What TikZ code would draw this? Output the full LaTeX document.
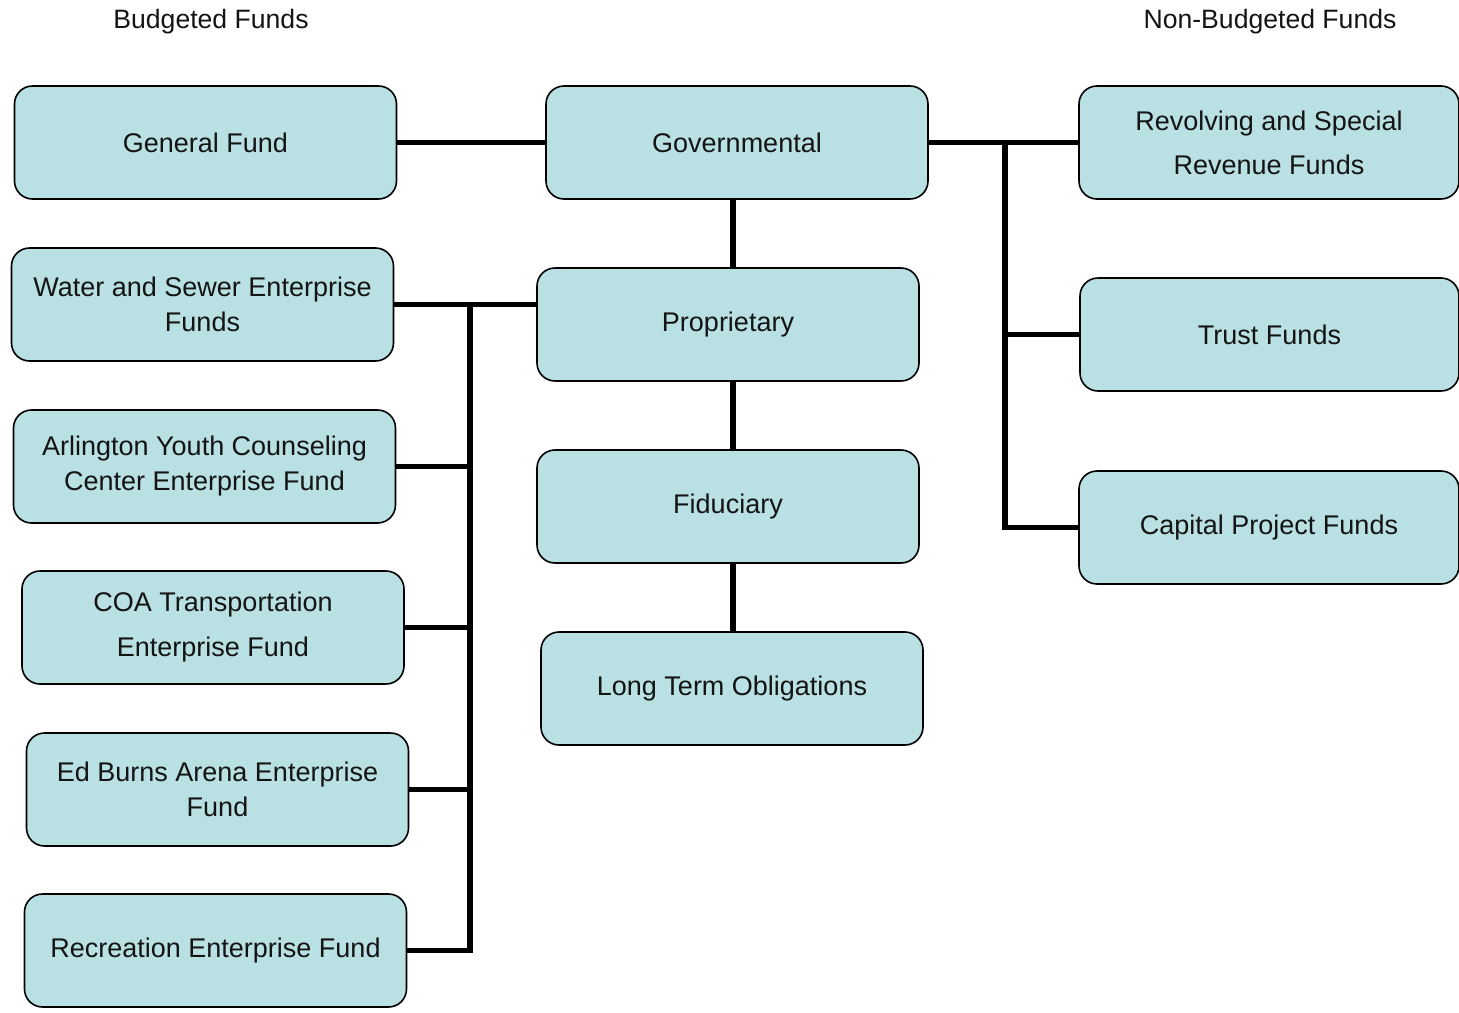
\documentclass[tikz,border=0pt]{standalone}
\usepackage{fontspec}
\setmainfont{Liberation Sans}
\definecolor{boxfill}{RGB}{185,224,227}
\definecolor{txt}{RGB}{20,20,20}
\begin{document}
\begin{tikzpicture}[x=1pt,y=-1pt,
  fundbox/.style={draw=black, line width=1.6pt, fill=boxfill, rounded corners=18pt,
    minimum width=382pt, minimum height=113pt, inner sep=0pt, align=center,
    text=txt, font=\fontsize{27}{35}\selectfont},
  conn/.style={line width=5.5pt, draw=black},
  title/.style={text=txt, font=\fontsize{26.6}{32}\selectfont, inner sep=0pt}]
\useasboundingbox (0,0) rectangle (1459,1012);
% titles
\node[title] (tb) at (211,21.5) {Budgeted Funds};
\node[title] (tn) at (1270,21.5) {Non-Budgeted Funds};
% boxes
\node[fundbox] (gen) at (205.5,142.5) {General Fund};
\node[fundbox] (gov) at (737,142.5) {Governmental};
\node[fundbox, minimum width=380pt] (rev) at (1269,142.5) {Revolving and Special\\[9pt]Revenue Funds};
\node[fundbox] (ws) at (202.5,304.5) {Water and Sewer Enterprise\\Funds};
\node[fundbox] (prop) at (728,324.5) {Proprietary};
\node[fundbox, minimum width=379pt] (trust) at (1269.5,334.5) {Trust Funds};
\node[fundbox] (arl) at (204.5,466.5) {Arlington Youth Counseling\\Center Enterprise Fund};
\node[fundbox] (fid) at (728,506.5) {Fiduciary};
\node[fundbox, minimum width=380pt] (cap) at (1269,527.5) {Capital Project Funds};
\node[fundbox] (coa) at (213,627.5) {COA Transportation\\[10pt]Enterprise Fund};
\node[fundbox] (lto) at (732,688.5) {Long Term Obligations};
\node[fundbox] (ed) at (217.5,789.5) {Ed Burns Arena Enterprise\\Fund};
\node[fundbox] (rec) at (215.5,950.5) {Recreation Enterprise Fund};
% helper coordinates
\coordinate (mx) at (733,0);
\coordinate (rt) at (1005,143);
\coordinate (lt) at (470,304.5);
% connectors
\draw[conn] (gen.east) -- (gov.west);
\draw[conn] (gov.east) -- (rev.west);
\draw[conn] (rt) |- (cap.west);
\draw[conn] (rt |- trust.west) -- (trust.west);
\draw[conn] (gov.south -| mx) -- (prop.north -| mx);
\draw[conn] (prop.south -| mx) -- (fid.north -| mx);
\draw[conn] (fid.south -| mx) -- (lto.north -| mx);
\draw[conn] (ws.east) -- (ws.east -| prop.west);
\draw[conn] (lt) |- (rec.east);
\draw[conn] (arl.east) -- (arl.east -| lt);
\draw[conn] (coa.east) -- (coa.east -| lt);
\draw[conn] (ed.east) -- (ed.east -| lt);
\end{tikzpicture}
\end{document}
